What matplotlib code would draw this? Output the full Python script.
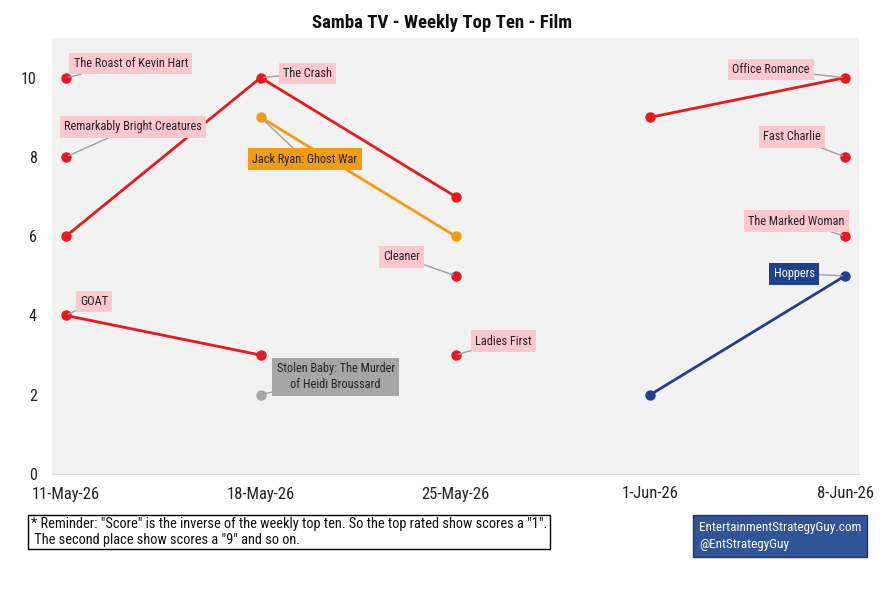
import matplotlib
matplotlib.use("Agg")
import matplotlib.pyplot as plt
from matplotlib import font_manager
import pandas as pd

# look for a narrow font, the reference uses a condensed face
narrow = None
for f in font_manager.fontManager.ttflist:
    name = f.name.lower()
    if ("narrow" in name or "condensed" in name or str(f.stretch) in
            ("condensed", "semi-condensed", "extra-condensed", "75", "87.5")) \
            and f.style == "normal" and f.weight in (400, "normal", "regular"):
        narrow = f.fname
        if "liberation" in name or "roboto" in name:
            break

if narrow:
    FP = font_manager.FontProperties(fname=narrow)
    fam = FP.get_name()
    font_manager.fontManager.addfont(narrow)
    plt.rcParams['font.family'] = [fam, 'DejaVu Sans']
    SCALE = 1.0
else:
    plt.rcParams['font.family'] = ['Liberation Sans', 'DejaVu Sans']
    SCALE = 0.85

# weekly data: score = 11 - rank
weeks = ["2026-05-11", "2026-05-18", "2026-05-25", "2026-06-01", "2026-06-08"]
week_labels = ["11-May-26", "18-May-26", "25-May-26", "1-Jun-26", "8-Jun-26"]
titles = ["The Roast of Kevin Hart", "Remarkably Bright Creatures", "The Crash",
          "Jack Ryan: Ghost War", "GOAT", "Stolen Baby: The Murder\nof Heidi Broussard",
          "Cleaner", "Ladies First", "Office Romance", "Fast Charlie",
          "The Marked Woman", "Hoppers"]
scores = [
    [10, None, None, None, None],
    [8, None, None, None, None],
    [6, 10, 7, None, None],
    [None, 9, 6, None, None],
    [4, 3, None, None, None],
    [None, 2, None, None, None],
    [None, None, 5, None, None],
    [None, None, 3, None, None],
    [None, None, None, 9, 10],
    [None, None, None, None, 8],
    [None, None, None, None, 6],
    [None, None, None, 2, 5],
]
label_week = [0, 0, 1, 1, 0, 1, 2, 2, 4, 4, 4, 4]

# styling
RED, ORANGE, GRAY, BLUE = "#e8191c", "#f39c12", "#a6a6a6", "#1f3f8f"
PINK = "#ffc7ce"
line_colors = [RED, RED, RED, ORANGE, RED, GRAY, RED, RED, RED, RED, RED, BLUE]
box_colors = [PINK, PINK, PINK, ORANGE, PINK, GRAY, PINK, PINK, PINK, PINK, PINK, BLUE]
text_colors = ["#222222"] * 11 + ["white"]
offsets = [(65, 14), (67, 30), (47, 4), (44, -42), (28, 14), (75, 18),
           (-54, 19), (48, 14), (-74, 8), (-53, 20), (-49, 15), (-51, 2)]

dates = pd.to_datetime(weeks)

fig = plt.figure(figsize=(8.85, 5.96), dpi=100)
ax = fig.add_axes([52 / 885, 1 - 474 / 596, (859 - 52) / 885, (474 - 38) / 596])
ax.set_facecolor("#f2f2f2")

for t, s, c in zip(titles, scores, line_colors):
    xs = [d for d, v in zip(dates, s) if v is not None]
    ys = [v for v in s if v is not None]
    ax.plot(xs, ys, color=c, lw=2, marker="o", ms=6.5, zorder=3)

for t, s, wk, bc, tc, off in zip(titles, scores, label_week, box_colors, text_colors, offsets):
    ax.annotate(t, xy=(dates[wk], s[wk]), xytext=off, textcoords="offset pixels",
                ha="center", va="center", fontsize=8.8 * SCALE, color=tc,
                multialignment="center", linespacing=1.35,
                bbox=dict(boxstyle="square,pad=0.35", fc=bc, ec="none"),
                arrowprops=dict(arrowstyle="-", color="#a0a0a0", lw=1,
                                shrinkA=0, shrinkB=2), zorder=4)

ax.set_xlim(dates[0] - pd.Timedelta(hours=12), dates[-1] + pd.Timedelta(hours=12))
ax.set_ylim(0, 11.0)
ax.set_yticks([0, 2, 4, 6, 8, 10])
ax.set_xticks(dates)
ax.set_xticklabels(week_labels)
ax.tick_params(axis="both", length=0, labelsize=12 * SCALE, colors="#222222")
ax.tick_params(axis="x", pad=9)
ax.tick_params(axis="y", pad=11, labelsize=11.5 * SCALE)
for side in ["top", "right", "left"]:
    ax.spines[side].set_visible(False)
ax.spines["bottom"].set_color("#d9d9d9")

fig.text(0.5, 1 - 23 / 596, "Samba TV - Weekly Top Ten - Film", ha="center", va="center",
         fontsize=13.5 * SCALE, fontweight="bold", color="#111111")

note = ('* Reminder: "Score" is the inverse of the weekly top ten. So the top rated show scores a "1".\n'
        ' The second place show scores a "9" and so on.')
fig.text(31 / 885, 1 - 532 / 596, note, ha="left", va="center", fontsize=10.4 * SCALE,
         linespacing=1.1, color="#111111",
         bbox=dict(boxstyle="square,pad=0.2", fc="white", ec="black", lw=1))

fig.text(699 / 885, 1 - 536 / 596, "EntertainmentStrategyGuy.com\n@EntStrategyGuy",
         ha="left", va="center", fontsize=9.5 * SCALE, color="white", linespacing=1.45,
         bbox=dict(boxstyle="square,pad=0.45", fc="#2f5597", ec="#1f3864", lw=1))

fig.savefig("out.png", dpi=100)
